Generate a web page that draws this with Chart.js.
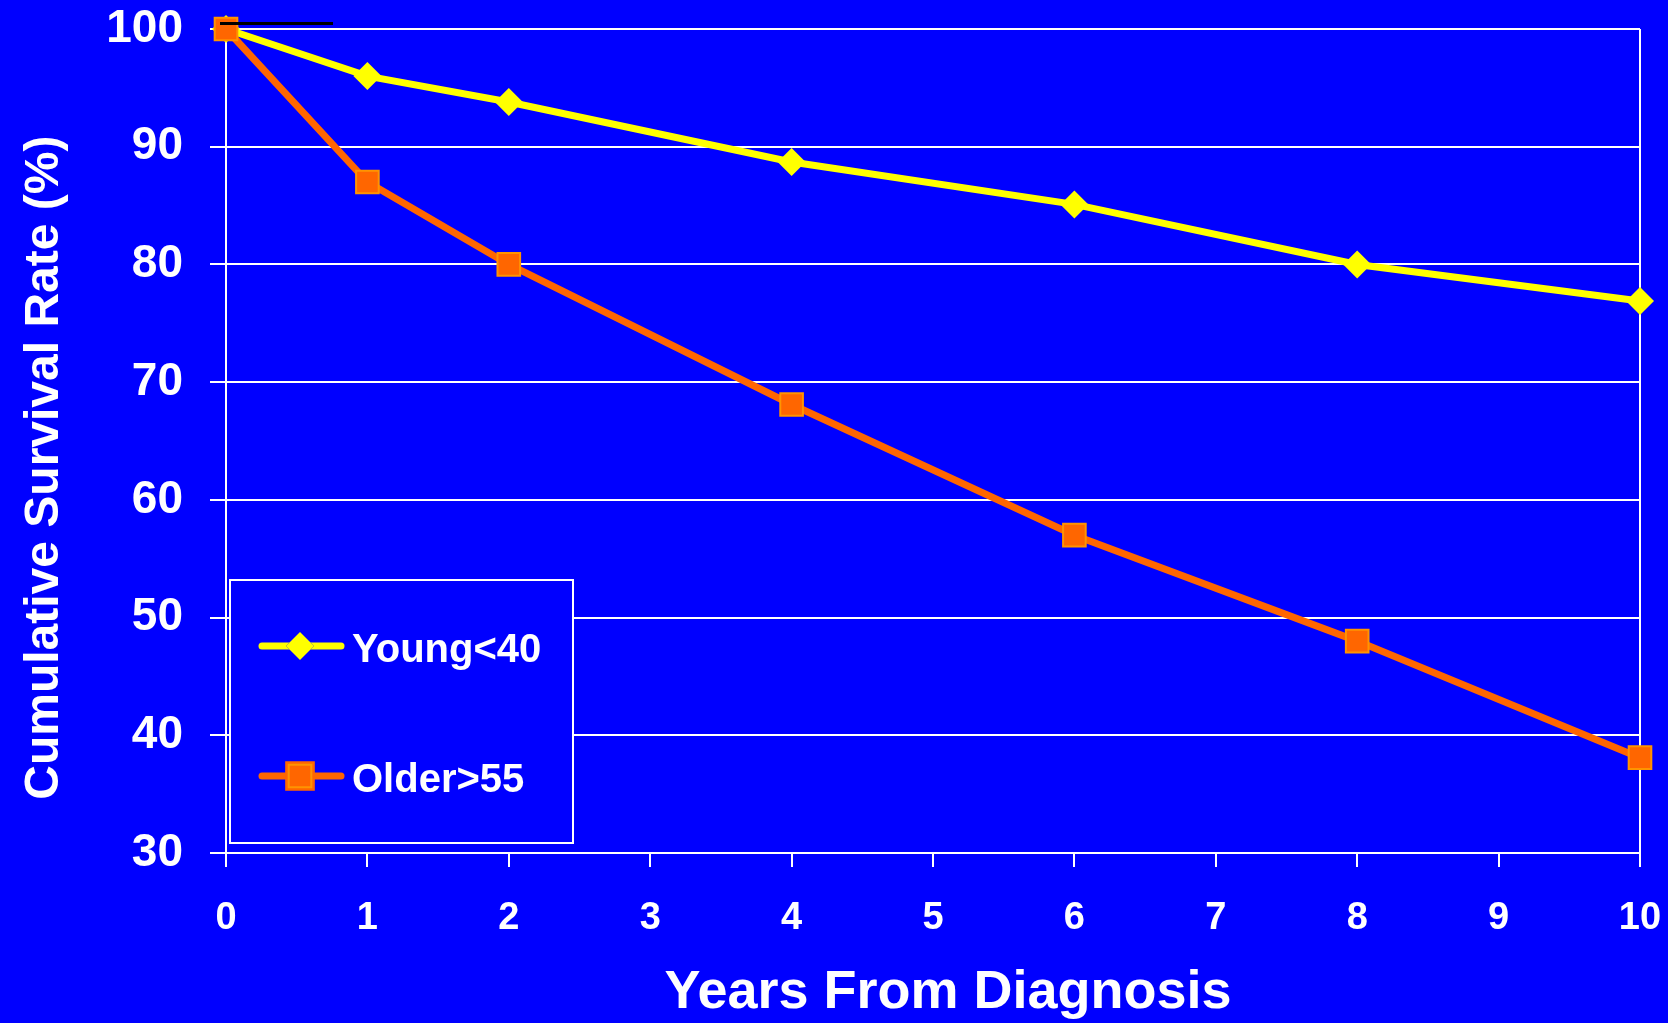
<!DOCTYPE html>
<html>
<head>
<meta charset="utf-8">
<title>Cumulative Survival Rate</title>
<script src="https://cdn.jsdelivr.net/npm/chart.js@4/dist/chart.umd.min.js"></script>
<style>
    html, body { margin: 0; padding: 0; background: #0000ff; }
    .chart-wrap { position: relative; width: 1668px; height: 1023px; }
</style>
</head>
<body>
<div class="chart-wrap"><canvas id="survivalChart"></canvas></div>
<script>
// ==== DONNEES ====
const years = [0, 1, 2, 4, 6, 8, 10];
const youngValues = [100, 96, 93.8, 88.7, 85.1, 80, 76.9];
const olderValues = [100, 87, 80, 68.1, 57, 48, 38.1];
const seriesLabels = ['Young<40', 'Older>55'];
const xTicks = [0, 1, 2, 3, 4, 5, 6, 7, 8, 9, 10];
const yTicks = [30, 40, 50, 60, 70, 80, 90, 100];

const FONT = "'Liberation Sans', Arial, sans-serif";
const WHITE = '#ffffff';
const BLUE = '#0000ff';
const YELLOW = '#ffff00';
const ORANGE = '#ff6600';

function toPoints(values) {
    return years.map((x, i) => ({ x: x, y: values[i] }));
}

// on enleve les marges automatiques des axes, le layout.padding decide
function noAutoPadding(scale) {
    scale.paddingTop = 0;
    scale.paddingBottom = 0;
    scale.paddingLeft = 0;
    scale.paddingRight = 0;
}

// Legende dessinee dans un cadre blanc (comme l'original)
const boxLegend = {
    id: 'boxLegend',
    afterDraw(chart) {
        const ctx = chart.ctx;
        ctx.save();
        ctx.fillStyle = BLUE;
        ctx.fillRect(230, 580, 343, 263);
        ctx.strokeStyle = WHITE;
        ctx.lineWidth = 2;
        ctx.strokeRect(230, 580, 343, 263);

        const rows = [646, 776];
        chart.data.datasets.forEach((ds, i) => {
            const y = rows[i];
            ctx.strokeStyle = ds.borderColor;
            ctx.lineWidth = 7;
            ctx.lineCap = 'round';
            ctx.beginPath();
            ctx.moveTo(262, y);
            ctx.lineTo(341, y);
            ctx.stroke();

            Chart.helpers.drawPoint(ctx, {
                pointStyle: ds.pointStyle,
                radius: ds.pointRadius,
                borderWidth: ds.pointBorderWidth,
                rotation: 0
            }, 300, y);
            ctx.fillStyle = ds.pointBackgroundColor;
            ctx.fill();
            if (ds.pointBorderWidth) {
                ctx.strokeStyle = ds.pointBorderColor;
                ctx.lineWidth = ds.pointBorderWidth;
                ctx.stroke();
            }

            ctx.fillStyle = WHITE;
            ctx.font = 'bold 40px ' + FONT;
            ctx.textAlign = 'left';
            ctx.textBaseline = 'alphabetic';
            ctx.fillText(ds.label, 352, y + 16);
        });

        // petit trait noir en haut a gauche
        const xs = chart.scales.x;
        const ys = chart.scales.y;
        ctx.fillStyle = '#000000';
        ctx.fillRect(xs.getPixelForValue(0) - 6, ys.getPixelForValue(100) - 7, 113, 3);
        ctx.restore();
    }
};

new Chart(document.getElementById('survivalChart'), {
    type: 'line',
    data: {
        datasets: [{
            label: seriesLabels[0],
            data: toPoints(youngValues),
            borderColor: YELLOW,
            backgroundColor: YELLOW,
            borderWidth: 7,
            pointStyle: 'rectRot',
            pointRadius: 14,
            pointBackgroundColor: YELLOW,
            pointBorderColor: YELLOW,
            pointBorderWidth: 0,
            order: 2,
            clip: false
        }, {
            label: seriesLabels[1],
            data: toPoints(olderValues),
            borderColor: ORANGE,
            backgroundColor: ORANGE,
            borderWidth: 7,
            pointStyle: 'rect',
            pointRadius: 16,
            pointBackgroundColor: ORANGE,
            pointBorderColor: '#ff9400',
            pointBorderWidth: 2,
            order: 1,
            clip: false
        }]
    },
    options: {
        responsive: true,
        maintainAspectRatio: false,
        animation: false,
        layout: { padding: { top: 29, right: 28, left: 0, bottom: 0 } },
        plugins: {
            legend: { display: false },
            tooltip: { enabled: false }
        },
        scales: {
            x: {
                type: 'linear',
                min: 0,
                max: 10,
                afterBuildTicks(scale) {
                    scale.ticks = xTicks.map(v => ({ value: v }));
                },
                afterFit(scale) {
                    scale.height = 170;
                    noAutoPadding(scale);
                },
                grid: {
                    color: c => (c.tick && c.tick.value === 10 ? WHITE : 'transparent'),
                    tickColor: WHITE,
                    lineWidth: 2,
                    tickLength: 14
                },
                border: { display: false },
                ticks: {
                    color: WHITE,
                    font: { family: FONT, size: 38, weight: 'bold' },
                    padding: 29,
                    maxRotation: 0
                },
                title: {
                    display: true,
                    // deux espaces devant pour decaler le titre un peu a droite
                    text: '  Years From Diagnosis',
                    color: WHITE,
                    font: { family: FONT, size: 54, weight: 'bold', lineHeight: 1.1 },
                    padding: { top: 0, bottom: 0 }
                }
            },
            y: {
                min: 30,
                max: 100,
                afterBuildTicks(scale) {
                    scale.ticks = yTicks.map(v => ({ value: v }));
                },
                afterFit(scale) {
                    scale.width = 226;
                    noAutoPadding(scale);
                },
                grid: {
                    color: WHITE,
                    lineWidth: 2,
                    tickLength: 16
                },
                border: { display: true, color: WHITE, width: 2 },
                ticks: {
                    color: WHITE,
                    font: { family: FONT, size: 46, weight: 'bold' },
                    padding: 27
                },
                title: {
                    display: true,
                    // espaces a la fin : le titre descend un peu (comme l'original)
                    text: 'Cumulative Survival Rate (%)    ',
                    color: WHITE,
                    font: { family: FONT, size: 48, weight: 'bold', lineHeight: 1.2 },
                    padding: { top: 16, bottom: 0 }
                }
            }
        }
    },
    plugins: [boxLegend]
});
</script>
</body>
</html>
